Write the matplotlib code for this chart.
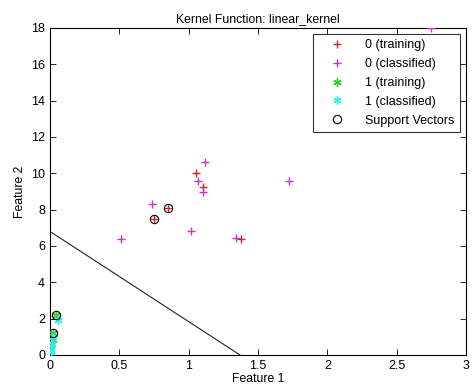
import matplotlib
matplotlib.use("Agg")
import matplotlib.pyplot as plt

plt.rcParams['font.family'] = ['Liberation Sans', 'DejaVu Sans']

# class 0 training points
train0_x = [1.05, 1.10, 1.38, 0.75, 0.85]
train0_y = [10.0, 9.25, 6.38, 7.48, 8.09]
# class 0 classified points
class0_x = [0.51, 0.735, 1.02, 1.12, 1.07, 1.10, 1.72, 1.34, 2.75]
class0_y = [6.38, 8.31, 6.8, 10.62, 9.57, 8.97, 9.57, 6.44, 18.0]
# class 1 training points
train1_x = [0.04, 0.02, 0.02, 0.01]
train1_y = [2.2, 1.2, 0.8, 0.5]
# class 1 classified points
class1_x = [0.06, 0.02, 0.015, 0.01, 0.005]
class1_y = [1.9, 1.0, 0.6, 0.3, 0.15]
# support vectors
sv_x = [0.04, 0.02, 0.75, 0.85]
sv_y = [2.2, 1.2, 7.48, 8.09]
# decision boundary endpoints
line_x = [0.0, 1.37]
line_y = [6.8, 0.0]

xticks = [0, 0.5, 1, 1.5, 2, 2.5, 3]
yticks = [0, 2, 4, 6, 8, 10, 12, 14, 16, 18]

fig = plt.figure(figsize=(4.73, 3.92), dpi=100)
ax = fig.add_axes([0.1057, 0.0944, 0.8795, 0.8342])

ast = (6, 2, 0)
ax.plot(train0_x, train0_y, '+', color='#c8282d', markersize=6, mew=1.0, label='0 (training)', zorder=3)
ax.plot(class0_x, class0_y, '+', color='#cc33cc', markersize=6, mew=1.0, label='0 (classified)', zorder=3)
ax.plot(train1_x, train1_y, marker=ast, ls='none', color='#33cc33', markersize=6, mew=1.0, label='1 (training)', zorder=3)
ax.plot(class1_x, class1_y, marker=ast, ls='none', color='#33eeee', markersize=6, mew=1.0, label='1 (classified)', zorder=3)
ax.plot(sv_x, sv_y, 'o', mfc='none', mec='black', markersize=6, mew=0.8, label='Support Vectors', zorder=4)
ax.plot(line_x, line_y, '-', color='#222222', lw=0.8, zorder=2)

ax.set_xlim(0, 3)
ax.set_ylim(0, 18)
ax.set_xticks(xticks)
ax.set_yticks(yticks)
ax.set_xticklabels(['0', '0.5', '1', '1.5', '2', '2.5', '3'])
ax.tick_params(direction='in', top=True, right=True, labelsize=9, length=4, width=0.6)
for s in ax.spines.values():
    s.set_linewidth(0.8)

ax.set_title('Kernel Function: linear_kernel', fontsize=8.8, pad=4)
ax.set_xlabel('Feature 1', fontsize=8.8, labelpad=1)
ax.set_ylabel('Feature 2', fontsize=8.8, labelpad=4)

leg = ax.legend(loc='upper right', fontsize=9, frameon=True, fancybox=False,
                edgecolor='black', borderaxespad=0.5, handlelength=3.0,
                labelspacing=0.55, borderpad=0.4, handletextpad=0.8)
leg.get_frame().set_linewidth(0.8)

fig.savefig('out.png', dpi=100)
